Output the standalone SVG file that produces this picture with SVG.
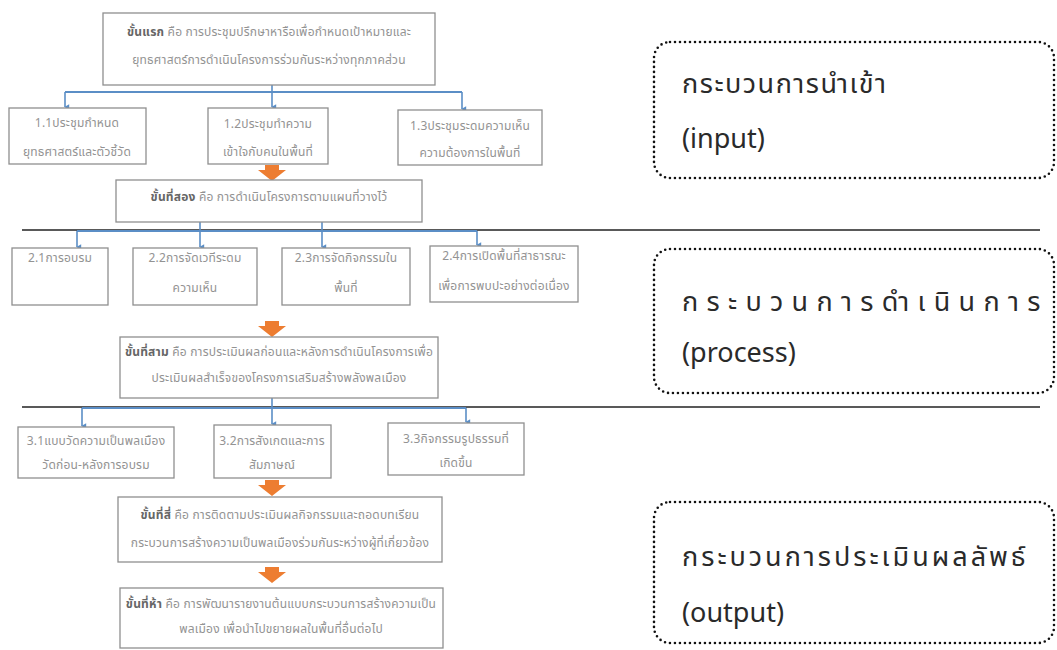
<svg xmlns="http://www.w3.org/2000/svg" width="1057" height="650" viewBox="0 0 1057 650">
<defs>
<style>
.box{fill:#fff;stroke:#8f8f8f;stroke-width:1.3}
.t{font-family:"Noto Sans Thai","Noto Sans","DejaVu Sans",sans-serif;font-size:12px;letter-spacing:0.2px;fill:#939393;text-anchor:middle}
.b{font-weight:bold;fill:#666}
.conn{stroke:#5b8ec6;stroke-width:2.2;fill:none}
.drop{stroke:#5b8ec6;stroke-width:1.6;fill:none}
.sep{stroke:#222;stroke-width:1.6}
.dot{fill:none;stroke:#111;stroke-width:2.6;stroke-dasharray:0 5;stroke-linecap:round}
.big{font-family:"Noto Sans Thai","Noto Sans","DejaVu Sans",sans-serif;font-size:27px;fill:#2a2a2a}
.orange{fill:#ed7d31}
</style>
<marker id="ah" viewBox="0 0 10 10" refX="5" refY="8" markerWidth="7" markerHeight="7" orient="auto-start-reverse" markerUnits="userSpaceOnUse">
<path d="M1,2 L5,9 L9,2 Z" fill="#5b8ec6"/>
</marker>
</defs>

<g id="separators">
<line class="sep" x1="22" y1="230" x2="1040" y2="230"/>
<line class="sep" x1="22" y1="407" x2="1040" y2="407"/>
</g>

<g id="connectors">
<line class="drop" x1="272" y1="85" x2="272" y2="92"/>
<line class="conn" x1="65" y1="92" x2="462" y2="92"/>
<line class="drop" x1="65" y1="92" x2="65" y2="107" marker-end="url(#ah)"/>
<line class="drop" x1="272" y1="92" x2="272" y2="107" marker-end="url(#ah)"/>
<line class="drop" x1="462" y1="92" x2="462" y2="109" marker-end="url(#ah)"/>
<line class="drop" x1="200" y1="222" x2="200" y2="231"/>
<line class="drop" x1="322" y1="222" x2="322" y2="231"/>
<line class="conn" x1="77" y1="231" x2="477" y2="231"/>
<line class="drop" x1="77" y1="231" x2="77" y2="247" marker-end="url(#ah)"/>
<line class="drop" x1="200" y1="231" x2="200" y2="247" marker-end="url(#ah)"/>
<line class="drop" x1="322" y1="231" x2="322" y2="247" marker-end="url(#ah)"/>
<line class="drop" x1="477" y1="231" x2="477" y2="245" marker-end="url(#ah)"/>
<line class="drop" x1="272" y1="398" x2="272" y2="408"/>
<line class="conn" x1="82" y1="408" x2="466" y2="408"/>
<line class="drop" x1="82" y1="408" x2="82" y2="426" marker-end="url(#ah)"/>
<line class="drop" x1="272" y1="408" x2="272" y2="424" marker-end="url(#ah)"/>
<line class="drop" x1="466" y1="408" x2="466" y2="422" marker-end="url(#ah)"/>
<path class="orange" d="M265,165 H279 V170 H286 L272,181 L258,170 H265 Z"/>
<path class="orange" d="M265,321 H279 V326 H286 L272,337 L258,326 H265 Z"/>
<path class="orange" d="M265,480 H279 V485 H286 L272,496 L258,485 H265 Z"/>
<path class="orange" d="M265,567 H279 V572 H286 L272,583 L258,572 H265 Z"/>
</g>

<g id="step1">
<rect class="box" x="103" y="13" width="332" height="72"/>
<text class="t" x="269" y="36"><tspan class="b">ขั้นแรก</tspan> คือ การประชุมปรึกษาหารือเพื่อกำหนดเป้าหมายและ</text>
<text class="t" x="269" y="64">ยุทธศาสตร์การดำเนินโครงการร่วมกันระหว่างทุกภาคส่วน</text>
</g>
<g id="n1-1">
<rect class="box" x="9" y="108" width="137" height="56"/>
<text class="t" x="77" y="127">1.1ประชุมกำหนด</text>
<text class="t" x="77" y="156">ยุทธศาสตร์และตัวชี้วัด</text>
</g>
<g id="n1-2">
<rect class="box" x="208" y="108" width="120" height="56"/>
<text class="t" x="268" y="128">1.2ประชุมทำความ</text>
<text class="t" x="268" y="156">เข้าใจกับคนในพื้นที่</text>
</g>
<g id="n1-3">
<rect class="box" x="398" y="110" width="144" height="55"/>
<text class="t" x="470" y="130">1.3ประชุมระดมความเห็น</text>
<text class="t" x="470" y="157">ความต้องการในพื้นที่</text>
</g>

<g id="step2">
<rect class="box" x="116" y="180" width="306" height="42"/>
<text class="t" x="269" y="201"><tspan class="b">ขั้นที่สอง</tspan> คือ การดำเนินโครงการตามแผนที่วางไว้</text>
</g>
<g id="n2-1">
<rect class="box" x="12" y="248" width="96" height="57"/>
<text class="t" x="60" y="262">2.1การอบรม</text>
</g>
<g id="n2-2">
<rect class="box" x="133" y="248" width="124" height="57"/>
<text class="t" x="195" y="262">2.2การจัดเวทีระดม</text>
<text class="t" x="195" y="292">ความเห็น</text>
</g>
<g id="n2-3">
<rect class="box" x="282" y="248" width="128" height="57"/>
<text class="t" x="346" y="262">2.3การจัดกิจกรรมใน</text>
<text class="t" x="346" y="292">พื้นที่</text>
</g>
<g id="n2-4">
<rect class="box" x="430" y="246" width="148" height="56"/>
<text class="t" x="504" y="260">2.4การเปิดพื้นที่สาธารณะ</text>
<text class="t" x="504" y="290">เพื่อการพบปะอย่างต่อเนื่อง</text>
</g>

<g id="step3">
<rect class="box" x="120" y="337" width="318" height="61"/>
<text class="t" x="279" y="356"><tspan class="b">ขั้นที่สาม</tspan> คือ การประเมินผลก่อนและหลังการดำเนินโครงการเพื่อ</text>
<text class="t" x="279" y="382">ประเมินผลสำเร็จของโครงการเสริมสร้างพลังพลเมือง</text>
</g>
<g id="n3-1">
<rect class="box" x="18" y="427" width="156" height="51"/>
<text class="t" x="96" y="445">3.1แบบวัดความเป็นพลเมือง</text>
<text class="t" x="96" y="469">วัดก่อน-หลังการอบรม</text>
</g>
<g id="n3-2">
<rect class="box" x="214" y="425" width="117" height="53"/>
<text class="t" x="272" y="445">3.2การสังเกตและการ</text>
<text class="t" x="272" y="469">สัมภาษณ์</text>
</g>
<g id="n3-3">
<rect class="box" x="388" y="423" width="136" height="52"/>
<text class="t" x="456" y="443">3.3กิจกรรมรูปธรรมที่</text>
<text class="t" x="456" y="467">เกิดขึ้น</text>
</g>

<g id="step4">
<rect class="box" x="118" y="497" width="324" height="65"/>
<text class="t" x="280" y="519"><tspan class="b">ขั้นที่สี่</tspan> คือ การติดตามประเมินผลกิจกรรมและถอดบทเรียน</text>
<text class="t" x="280" y="547">กระบวนการสร้างความเป็นพลเมืองร่วมกันระหว่างผู้ที่เกี่ยวข้อง</text>
</g>
<g id="step5">
<rect class="box" x="120" y="588" width="323" height="60"/>
<text class="t" x="281" y="608"><tspan class="b">ขั้นที่ห้า</tspan> คือ การพัฒนารายงานต้นแบบกระบวนการสร้างความเป็น</text>
<text class="t" x="281" y="633">พลเมือง เพื่อนำไปขยายผลในพื้นที่อื่นต่อไป</text>
</g>

<g id="label-input">
<rect class="dot" x="654" y="42" width="400" height="136" rx="16"/>
<text class="big" x="682" y="93" letter-spacing="1.5">กระบวนการนำเข้า</text>
<text class="big" x="682" y="148">(input)</text>
</g>
<g id="label-process">
<rect class="dot" x="654" y="249" width="400" height="144" rx="16"/>
<text class="big" x="682" y="311" letter-spacing="8.3">กระบวนการดำเนินการ</text>
<text class="big" x="682" y="362">(process)</text>
</g>
<g id="label-output">
<rect class="dot" x="654" y="502" width="400" height="141" rx="16"/>
<text class="big" x="682" y="566" letter-spacing="3">กระบวนการประเมินผลลัพธ์</text>
<text class="big" x="682" y="622">(output)</text>
</g>
</svg>
